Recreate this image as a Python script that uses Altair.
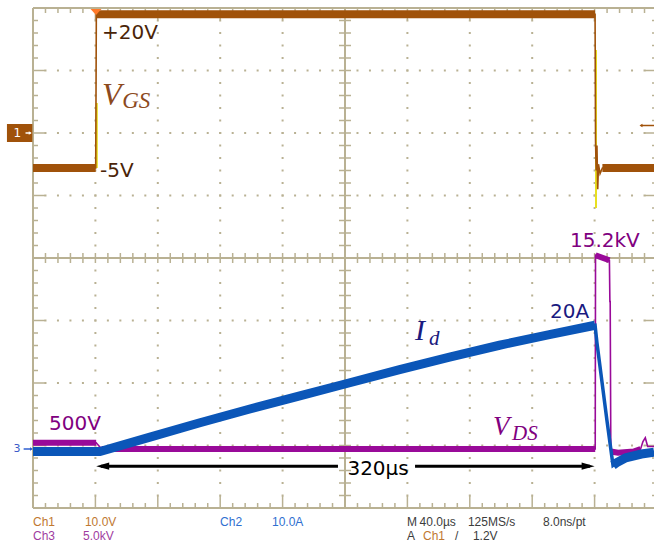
import altair as alt
import pandas as pd

# ---------------- scope settings ----------------
T_PER_DIV = 40.0          # µs / div
X_MAX = 398.08            # visible time (screen cut at the right)
CH1_SCALE, CH1_POS = 10.0, 2.0      # V / div, ground position (div)
CH2_SCALE, CH2_POS = 10.0, -3.056   # A / div
CH3_SCALE, CH3_POS = 5.0, -3.056    # kV / div
TRIG_LEVEL = 1.2                    # V on Ch1

# ---------------- Ch1: V_GS (V) ----------------
vgs_t = [0.0, 40.2, 40.6, 360.3, 360.6, 361.0, 361.5, 362.0, 362.5, 363.5, 365.0, 398.1]
vgs_v = [-5.6, -5.6, 19.0, 19.0, -1.2, -6.0, -2.0, -9.0, -5.0, -6.5, -5.6, -5.6]
vgs_bands = [(0, 1), (2, 3), (10, 11)]
vgs_yel_t = [40.9, 40.9, 360.9, 360.9]
vgs_yel_v = [-5.6, 4.8, 13.3, -12.0]
vgs_yel_seg = [0, 0, 1, 1]

# ---------------- Ch3: V_DS (kV) ----------------
vds_t = [0.0, 40.5, 44.0, 360.4, 360.6, 365.0, 369.5, 369.8, 370.0, 370.4, 375.0, 385.0,
         389.5, 391.0, 392.5, 394.0, 398.1]
vds_v = [0.5, 0.5, 0.0, 0.0, 15.5, 15.3, 15.1, 11.8, 11.8, -0.2, -0.3, -0.2,
         0.0, 0.6, 0.9, 0.2, 0.2]
vds_bands = [(0, 1), (2, 3), (4, 6), (9, 12)]

# ---------------- Ch2: I_d (A) ----------------
id_t = [0.0, 42.9, 75.0, 107.0, 139.0, 171.0, 200.0, 235.0, 267.0, 299.0, 331.0, 360.3,
        361.5, 367.9, 371.8, 374.0, 380.0, 390.0, 398.1]
id_a = [-0.4, -0.4, 1.9, 4.2, 6.4, 8.5, 10.4, 12.7, 14.7, 16.6, 18.3, 19.8,
        17.0, 4.6, -2.6, -2.2, -1.4, -0.8, -0.5]
id_bands = [(0, 11), (14, 18)]

# ---------------- annotations ----------------
lab_text = ["+20V", "-5V", "500V", "15.2kV", "20A"]
lab_t = [44.2, 43.0, 10.3, 344.2, 331.4]
lab_d = [3.504, 1.296, -2.752, 0.176, -0.96]
lab_col = ["#4a2408", "#4a2408", "#800080", "#800080", "#1a1a80"]

math_main = ["V", "I", "V"]
math_main_t = [44.2, 244.9, 294.9]
math_main_d = [2.448, -1.312, -2.832]
math_main_size = [32, 30, 27]
math_sub = ["GS", "d", "DS"]
math_sub_t = [57.2, 253.8, 307.1]
math_sub_d = [2.40, -1.392, -2.912]
math_sub_size = [23, 21, 21]
math_col = ["#8c4a1e", "#1a1a80", "#800080"]

pulse_start, pulse_end = 40.5, 360.0
pulse_label = "320µs"
arrow_d = -3.33
arrow_gap = (195.5, 244.9)

# ---------------- status line ----------------
stat_text = ["Ch1", "10.0V", "Ch3", "5.0kV", "Ch2", "10.0A", "M", "40.0µs", "125MS/s", "8.0ns/pt",
             "A", "Ch1", "/", "1.2V"]
stat_t = [0.0, 33.3, 0.0, 32.1, 119.9, 153.2, 239.7, 247.8, 278.8, 326.9,
          239.7, 250.0, 270.5, 282.0]
stat_d = [-4.288, -4.288, -4.512, -4.512, -4.288, -4.288, -4.288, -4.288, -4.288, -4.288,
          -4.512, -4.512, -4.512, -4.512]
stat_col = ["#c07830", "#c07830", "#a03ca0", "#a03ca0", "#2f6fd0", "#2f6fd0", "#3c3c3c", "#3c3c3c",
            "#3c3c3c", "#3c3c3c", "#3c3c3c", "#c07830", "#3c3c3c", "#3c3c3c"]

# ---------------- colours ----------------
C_CH1, C_CH2, C_CH3 = "#a0520a", "#0b56b8", "#990a99"
C_YEL = "#e8e020"
C_GRID = "#b9b193"

xs = alt.Scale(domain=[0, X_MAX], nice=False, zero=False)
ys = alt.Scale(domain=[-4, 4], nice=False, zero=False)
PX_T = 62.4 / T_PER_DIV   # px per µs
PX_D = 62.5               # px per div


def X(f="t"):
    return alt.X(f, type="quantitative", scale=xs, axis=None)


def Y(f="d"):
    return alt.Y(f, type="quantitative", scale=ys, axis=None)


def trace_df(ts, vs, scale, pos):
    return pd.DataFrame({"i": list(range(len(ts))), "t": ts, "d": [v / scale + pos for v in vs]})


def band_df(df, ranges):
    parts = []
    for k, (a, b) in enumerate(ranges):
        p = df.iloc[a:b + 1].copy()
        p["seg"] = k
        parts.append(p)
    return pd.concat(parts, ignore_index=True)


def line(df, color, width, detail=False):
    enc = dict(x=X(), y=Y(), order=alt.Order("i:Q"))
    if detail:
        enc["detail"] = alt.Detail("seg:N")
    return alt.Chart(df).mark_line(color=color, strokeWidth=width, strokeJoin="miter").encode(**enc)


# ---------------- graticule ----------------
vgrid = pd.DataFrame({"t": [T_PER_DIV * k for k in range(1, 10) if k != 5]})
hgrid = pd.DataFrame({"d": [k for k in range(-3, 4) if k != 0]})
dots_v = alt.Chart(vgrid).mark_rule(color=C_GRID, strokeWidth=2, strokeDash=[2, 10.5],
                                    strokeDashOffset=1).encode(
    x=X(), y=alt.Y("lo:Q", scale=ys, axis=None), y2="hi:Q").transform_calculate(lo="-4", hi="4")
dots_h = alt.Chart(hgrid).mark_rule(color=C_GRID, strokeWidth=2, strokeDash=[2, 10.48],
                                    strokeDashOffset=1).encode(
    y=Y(), x=alt.X("lo:Q", scale=xs, axis=None), x2="hi:Q").transform_calculate(lo="0", hi="400")

frame_v = pd.DataFrame({"t": [0, 5 * T_PER_DIV], "d0": [-4, -4], "d1": [4, 4]})
frame_h = pd.DataFrame({"d": [4, -4, 0], "t0": [0, 0, 0], "t1": [400, 400, 400]})
fv = alt.Chart(frame_v).mark_rule(color=C_GRID, strokeWidth=2).encode(x=X(), y=Y("d0"), y2="d1")
fh = alt.Chart(frame_h).mark_rule(color=C_GRID, strokeWidth=2).encode(y=Y(), x=X("t0"), x2="t1")

vt_rows, ht_rows = [], []
for k in range(1, 50):
    t = 8.0 * k
    L = (12 if k % 5 == 0 else 5) / PX_D
    vt_rows += [(t, 4, 4 - L), (t, -4, -4 + L)]
    if t != 200:
        vt_rows.append((t, -5 / PX_D, 5 / PX_D))
for k in range(1, 40):
    d = round(-4 + 0.2 * k, 3)
    L = (12 if k % 5 == 0 else 5) / PX_T
    ht_rows += [(d, 0, L), (d, 400 - L, 400)]
    if d != 0:
        ht_rows.append((d, 200 - 6 / PX_T, 200 + 6 / PX_T))
vticks = alt.Chart(pd.DataFrame(vt_rows, columns=["t", "d0", "d1"])).mark_rule(
    color=C_GRID, strokeWidth=1.5).encode(x=X(), y=Y("d0"), y2="d1")
hticks = alt.Chart(pd.DataFrame(ht_rows, columns=["d", "t0", "t1"])).mark_rule(
    color=C_GRID, strokeWidth=1.5).encode(y=Y(), x=X("t0"), x2="t1")

# ---------------- traces ----------------
vgs = trace_df(vgs_t, vgs_v, CH1_SCALE, CH1_POS)
vds = trace_df(vds_t, vds_v, CH3_SCALE, CH3_POS)
idd = trace_df(id_t, id_a, CH2_SCALE, CH2_POS)
yel = pd.DataFrame({"i": list(range(4)), "t": vgs_yel_t,
                    "d": [v / CH1_SCALE + CH1_POS for v in vgs_yel_v], "seg": vgs_yel_seg})

traces = [
    line(yel, C_YEL, 2, detail=True),
    line(vgs, C_CH1, 1.6),
    line(band_df(vgs, vgs_bands), C_CH1, 8, detail=True),
    line(vds, C_CH3, 1.6),
    line(band_df(vds, vds_bands), C_CH3, 6, detail=True),
    line(idd, C_CH2, 3.5),
    line(band_df(idd, id_bands), C_CH2, 9, detail=True),
]

# ---------------- annotations ----------------
labels = alt.Chart(pd.DataFrame({"s": lab_text, "t": lab_t, "d": lab_d, "c": lab_col})).mark_text(
    align="left", baseline="alphabetic", font="DejaVu Sans", fontSize=20).encode(
    x=X(), y=Y(), text="s:N", color=alt.Color("c:N", scale=None))

math_layers = []
for s, t, d, sz, c in zip(math_main, math_main_t, math_main_d, math_main_size, math_col):
    math_layers.append(alt.Chart(pd.DataFrame({"s": [s], "t": [t], "d": [d]})).mark_text(
        align="left", baseline="alphabetic", font="Liberation Serif", fontStyle="italic",
        fontSize=sz, color=c).encode(x=X(), y=Y(), text="s:N"))
for s, t, d, sz, c in zip(math_sub, math_sub_t, math_sub_d, math_sub_size, math_col):
    math_layers.append(alt.Chart(pd.DataFrame({"s": [s], "t": [t], "d": [d]})).mark_text(
        align="left", baseline="alphabetic", font="Liberation Serif", fontStyle="italic",
        fontSize=sz, color=c).encode(x=X(), y=Y(), text="s:N"))

arrow_lines = alt.Chart(pd.DataFrame({"t0": [pulse_start + 3, arrow_gap[1]],
                                      "t1": [arrow_gap[0], pulse_end - 3],
                                      "d": [arrow_d, arrow_d]})).mark_rule(
    color="black", strokeWidth=3).encode(x=X("t0"), x2="t1", y=Y())
head_r = "M0,0 L-2,-0.55 L-2,0.55 Z"
head_l = "M0,0 L2,-0.55 L2,0.55 Z"
arrow_heads = alt.Chart(pd.DataFrame({"t": [pulse_start, pulse_end], "d": [arrow_d, arrow_d],
                                      "sh": [head_l, head_r]})).mark_point(
    filled=True, color="black", size=169, opacity=1, strokeWidth=0).encode(
    x=X(), y=Y(), shape=alt.Shape("sh:N", scale=None))
pulse_txt = alt.Chart(pd.DataFrame({"s": [pulse_label], "t": [(arrow_gap[0] + arrow_gap[1]) / 2 + 1],
                                    "d": [arrow_d - 0.142]})).mark_text(
    align="center", baseline="alphabetic", font="DejaVu Sans", fontSize=20, color="black").encode(
    x=X(), y=Y(), text="s:N")

# ---------------- markers ----------------
box = alt.Chart(pd.DataFrame({"t0": [-16.7], "t1": [-0.4], "d0": [CH1_POS - 0.144],
                              "d1": [CH1_POS + 0.144]})).mark_rect(color=C_CH1).encode(
    x=X("t0"), x2="t1", y=Y("d0"), y2="d1")
box_txt = alt.Chart(pd.DataFrame({"s": ["1"], "t": [-10.0], "d": [CH1_POS]})).mark_text(
    align="center", baseline="middle", font="DejaVu Sans", fontSize=12, color="white").encode(
    x=X(), y=Y(), text="s:N")
m_rules = alt.Chart(pd.DataFrame({"t0": [-4.8, -6.0, 389.6], "t1": [-1.5, -1.0, 400],
                                  "d": [CH1_POS, CH3_POS, TRIG_LEVEL / CH1_SCALE + CH1_POS],
                                  "c": ["white", "#2f5fd0", C_CH1]})).mark_rule(strokeWidth=1.5).encode(
    x=X("t0"), x2="t1", y=Y(), color=alt.Color("c:N", scale=None))
m_heads = alt.Chart(pd.DataFrame({"t": [-0.8, 0.0, 388.8],
                                  "d": [CH1_POS, CH3_POS, TRIG_LEVEL / CH1_SCALE + CH1_POS],
                                  "sh": ["M0,0 L-2,-1.2 L-2,1.2 Z", "M0,0 L-2,-1.2 L-2,1.2 Z",
                                         "M0,0 L2,-1.1 L2,1.1 Z"],
                                  "c": ["white", "#2f5fd0", C_CH1]})).mark_point(
    filled=True, size=9, opacity=1, strokeWidth=0).encode(
    x=X(), y=Y(), shape=alt.Shape("sh:N", scale=None), color=alt.Color("c:N", scale=None))
ch3_txt = alt.Chart(pd.DataFrame({"s": ["3"], "t": [-10.3], "d": [CH3_POS]})).mark_text(
    align="center", baseline="middle", font="DejaVu Sans", fontSize=11, color="#3a5ac8").encode(
    x=X(), y=Y(), text="s:N")
trig = alt.Chart(pd.DataFrame({"t": [pulse_start - 0.1], "d": [4 - 7 / PX_D]})).mark_point(
    filled=True, color="#ff7a2a", size=121, opacity=1, strokeWidth=0,
    shape="M0,0 L-1,-1.1 L1,-1.1 Z").encode(x=X(), y=Y())

# ---------------- status line ----------------
status = alt.Chart(pd.DataFrame({"s": stat_text, "t": stat_t, "d": stat_d, "c": stat_col})).mark_text(
    align="left", baseline="alphabetic", font="Liberation Sans", fontSize=12).encode(
    x=X(), y=Y(), text="s:N", color=alt.Color("c:N", scale=None))

chart = alt.layer(
    dots_v, dots_h, fv, fh, vticks, hticks,
    *traces,
    labels, *math_layers, arrow_lines, arrow_heads, pulse_txt,
    box, box_txt, m_rules, m_heads, ch3_txt, trig, status,
).properties(
    width=621, height=500,
    padding={"left": 33, "top": 8, "right": 0, "bottom": 46},
    autosize=alt.AutoSizeParams(type="none"),
    background="white",
).configure_view(stroke=None)

chart.save("out.html", embed_options={"renderer": "svg", "actions": False})
